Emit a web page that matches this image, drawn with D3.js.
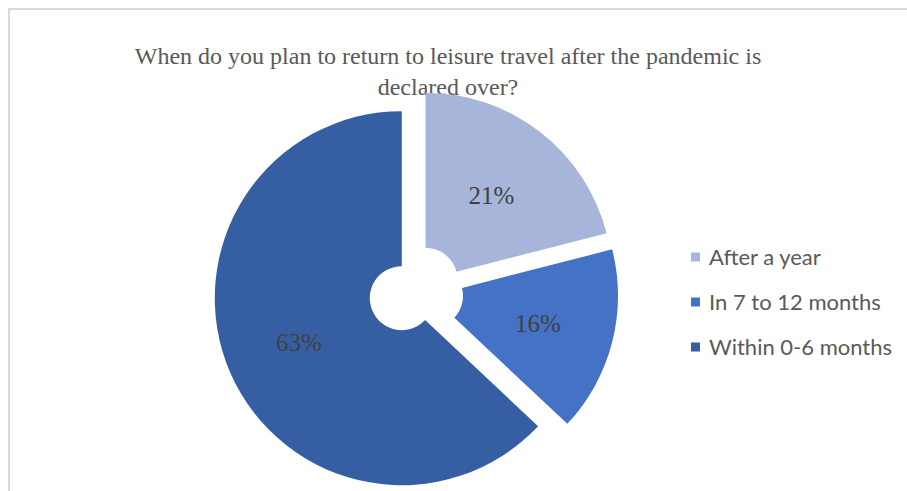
<!DOCTYPE html>
<html>
<head>
<meta charset="utf-8">
<script src="https://cdn.jsdelivr.net/npm/d3@7"></script>
<style>
  html, body { margin: 0; padding: 0; background: #fff; }
  svg { display: block; }
</style>
</head>
<body>
<svg id="chart" width="907" height="491"></svg>
<script>
// Survey responses: timing of return to leisure travel
const categories = ["After a year", "In 7 to 12 months", "Within 0-6 months"];
const shares = [21, 16, 63];
const colors = ["#A7B5DB", "#4472C4", "#365FA3"];
const titleLines = ["When do you plan to return to leisure travel after the pandemic is", "declared over?"];

const svg = d3.select("#chart");
const W = 907, H = 491;

// chart frame
svg.append("path")
  .attr("d", `M9,${H} V9 H${W}`)
  .attr("fill", "none")
  .attr("stroke", "#d9d9d9")
  .attr("stroke-width", 2);

// title
const title = svg.append("text")
  .attr("text-anchor", "middle")
  .attr("font-family", "'Liberation Serif', 'Times New Roman', serif")
  .attr("font-size", 24)
  .attr("fill", "#595959");
titleLines.forEach((t, i) => {
  title.append("tspan").attr("x", 448).attr("y", 64 + i * 31).text(t);
});

// exploded donut
const cx = 416, cy = 292, R = 187, r0 = 32, explode = 15.5;
const pie = d3.pie().sort(null).value(d => d)(shares);
const arc = d3.arc().innerRadius(r0).outerRadius(R);
const color = d3.scaleOrdinal().domain(categories).range(colors);

const g = svg.append("g").attr("transform", `translate(${cx},${cy})`);
const slices = g.selectAll("g.slice").data(pie).join("g")
  .attr("class", "slice")
  .attr("transform", d => {
    const a = (d.startAngle + d.endAngle) / 2;
    return `translate(${Math.sin(a) * explode},${-Math.cos(a) * explode})`;
  });

slices.append("path")
  .attr("d", arc)
  .attr("fill", (d, i) => color(categories[i]));

// percentage labels
const labelR = [0.575, 0.59, 0.60];
slices.append("text")
  .attr("transform", (d, i) => {
    const a = (d.startAngle + d.endAngle) / 2;
    const rr = R * labelR[i];
    return `translate(${Math.sin(a) * rr},${-Math.cos(a) * rr})`;
  })
  .attr("text-anchor", "middle")
  .attr("dy", "0.35em")
  .attr("font-family", "'Liberation Serif', 'Times New Roman', serif")
  .attr("font-size", 25)
  .attr("fill", "#404040")
  .text(d => d.value + "%");

// legend
const legendY = d3.scalePoint().domain(categories).range([257, 347]);
const legend = svg.append("g");
const items = legend.selectAll("g").data(categories).join("g")
  .attr("transform", d => `translate(691,${legendY(d)})`);
items.append("rect")
  .attr("x", 0).attr("y", -4.5).attr("width", 9).attr("height", 9)
  .attr("fill", d => color(d));
items.append("text")
  .attr("x", 18).attr("dy", "0.35em")
  .attr("font-family", "Lato, 'Open Sans', sans-serif")
  .attr("font-size", 22)
  .attr("fill", "#595959")
  .text(d => d);
</script>
</body>
</html>
